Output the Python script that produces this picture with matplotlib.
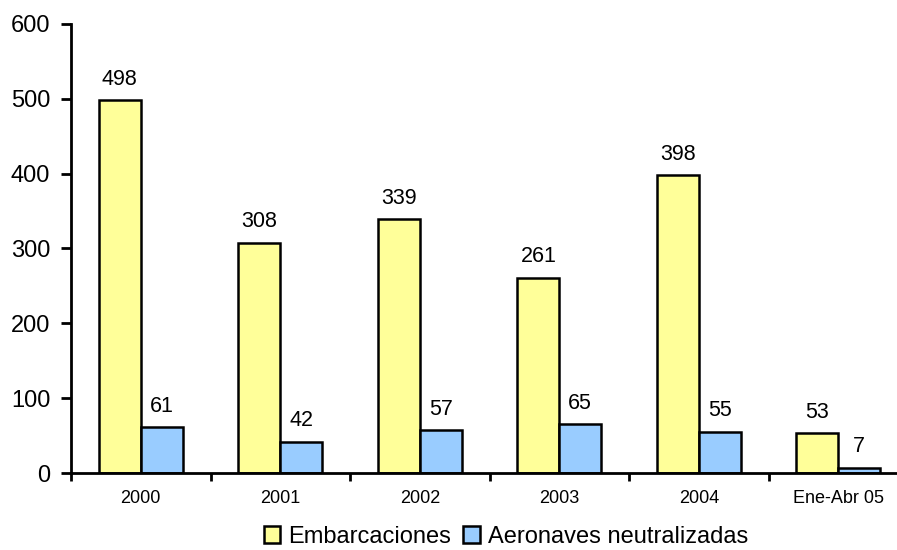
import matplotlib
matplotlib.use("Agg")
import matplotlib.pyplot as plt
import numpy as np

plt.rcParams['font.family'] = ['Liberation Sans', 'DejaVu Sans']

categories = ["2000", "2001", "2002", "2003", "2004", "Ene-Abr 05"]
embarcaciones = [498, 308, 339, 261, 398, 53]
aeronaves = [61, 42, 57, 65, 55, 7]
yticks = [0, 100, 200, 300, 400, 500, 600]

fig = plt.figure(figsize=(8.97, 5.5), dpi=100)
ax = fig.add_axes([71 / 897, 77 / 550, (908 - 71) / 897, 449 / 550])

x = np.arange(len(categories))
w = 0.3
b1 = ax.bar(x - w / 2, embarcaciones, w, color="#FFFF99", edgecolor="black", linewidth=1.8,
            label="Embarcaciones")
b2 = ax.bar(x + w / 2, aeronaves, w, color="#99CCFF", edgecolor="black", linewidth=1.8,
            label="Aeronaves neutralizadas")

for rect, v in list(zip(b1, embarcaciones)) + list(zip(b2, aeronaves)):
    ax.annotate(str(v), (rect.get_x() + rect.get_width() / 2, v), xytext=(0, 7.5),
                textcoords="offset points", ha="center", va="bottom", fontsize=15.5)

ax.set_xlim(-0.5, len(categories) - 0.5)
ax.set_ylim(0, 600)
ax.set_yticks(yticks)
ax.tick_params(axis="y", labelsize=17, width=2, length=7, direction="out", pad=8)

ax.set_xticks(x)
ax.set_xticklabels(categories, fontsize=13)
ax.tick_params(axis="x", which="major", length=0, pad=12)
ax.set_xticks(np.arange(len(categories) + 1) - 0.5, minor=True)
ax.tick_params(axis="x", which="minor", length=6, width=2, direction="out")

for s in ["top", "right"]:
    ax.spines[s].set_visible(False)
ax.spines["left"].set_linewidth(2)
ax.spines["bottom"].set_linewidth(2)

fig.legend(handles=[b1, b2], loc="center", bbox_to_anchor=(506 / 897, 1 - 537 / 550),
           ncol=2, frameon=False, fontsize=17, handlelength=0.7, handleheight=0.7,
           handletextpad=0.35, columnspacing=0.5)

fig.savefig("out.png", dpi=100)
